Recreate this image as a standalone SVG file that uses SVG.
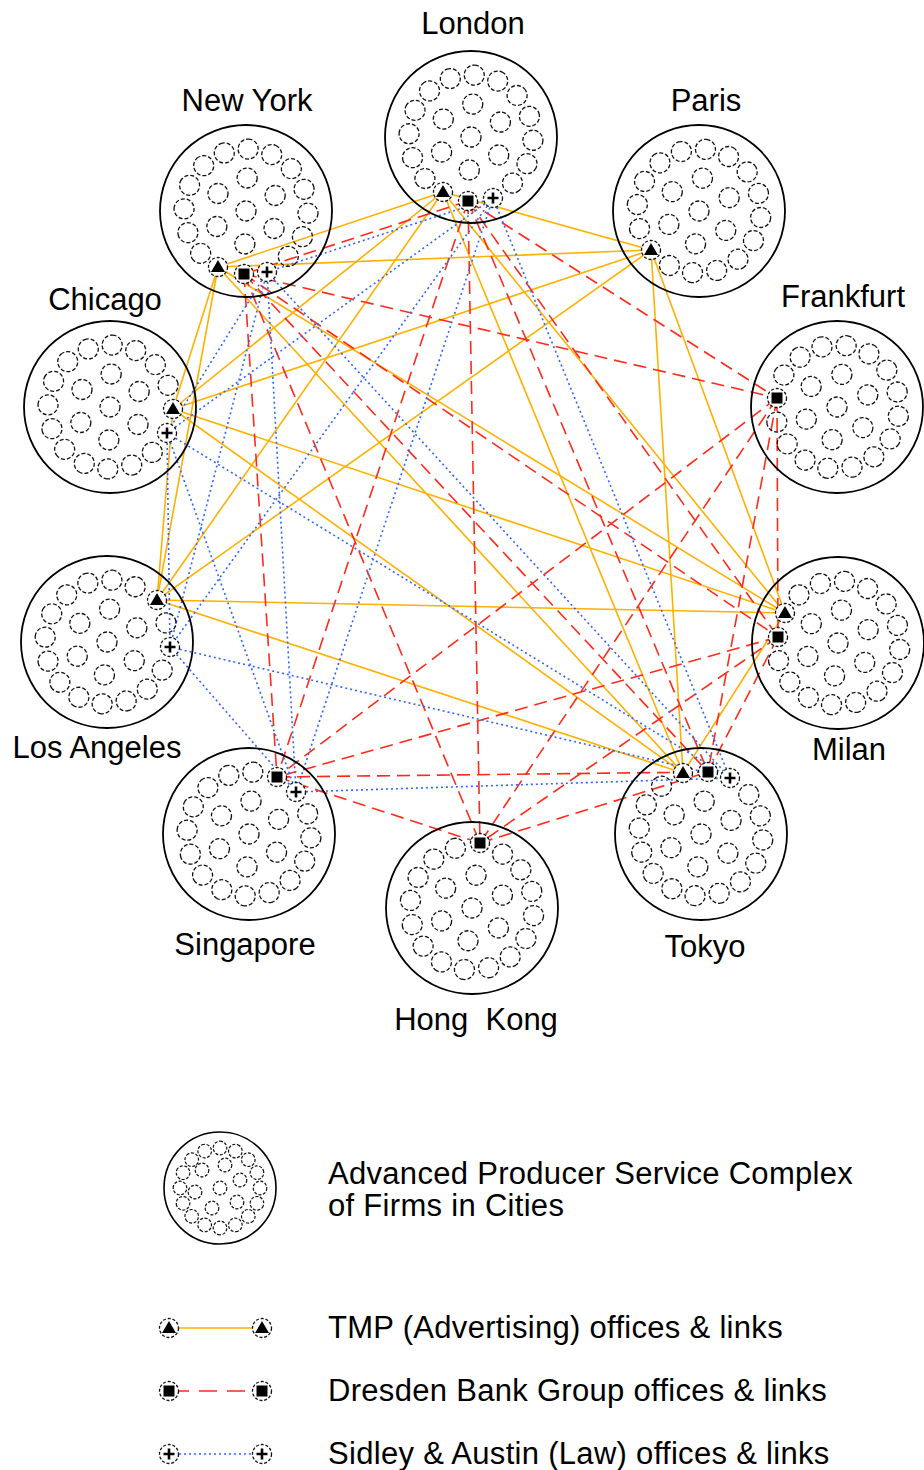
<svg xmlns="http://www.w3.org/2000/svg" xmlns:xlink="http://www.w3.org/1999/xlink" width="924" height="1470" viewBox="0 0 924 1470">
<defs>
<style>
.big{fill:none;stroke:#000;stroke-width:1.8}
.sm{fill:none;stroke:#111;stroke-width:1.3;stroke-dasharray:4 2}
.lsm{fill:none;stroke:#111;stroke-width:1.2;stroke-dasharray:3 1.6}
.mk{fill:#fff;stroke:#111;stroke-width:1.3;stroke-dasharray:3 1.8}
.tmp{stroke:#FFB000;stroke-width:1.6;fill:none}
.dre{stroke:#FF2A1A;stroke-width:1.6;stroke-dasharray:13 7;fill:none}
.sid{stroke:#2F66FF;stroke-width:1.6;stroke-dasharray:2 3;fill:none}
text{font-family:"Liberation Sans",Arial,Helvetica,sans-serif;font-size:31px;fill:#000}
.lt{letter-spacing:0.3px}
</style>
<circle id="s" class="sm" cx="62" cy="0" r="10"/>
<g id="in">
<circle class="sm" cx="0" cy="-33" r="10"/><circle class="sm" cx="28.6" cy="-16.5" r="10"/><circle class="sm" cx="28.6" cy="16.5" r="10"/><circle class="sm" cx="0" cy="33" r="10"/><circle class="sm" cx="-28.6" cy="16.5" r="10"/><circle class="sm" cx="-28.6" cy="-16.5" r="10"/><circle class="sm" cx="0" cy="0" r="10"/>
</g>
<circle id="ls" class="lsm" cx="40" cy="0" r="6.8"/>
<g id="tri"><circle class="mk" r="9.5"/><path d="M0,-7 L7,5 L-7,5 Z" fill="#000"/></g>
<g id="sq"><circle class="mk" r="9.5"/><rect x="-5.5" y="-5.5" width="11" height="11" fill="#000"/></g>
<g id="pl"><circle class="mk" r="9.5"/><path d="M-5.5,0H5.5M0,-5.5V5.5" stroke="#000" stroke-width="2.6" fill="none"/></g>
</defs>
<rect width="924" height="1470" fill="#fff"/>

<g id="connectors">
<g id="tmp-links">
<line class="tmp" x1="443" y1="192" x2="218" y2="267"/>
<line class="tmp" x1="443" y1="192" x2="173" y2="409"/>
<line class="tmp" x1="443" y1="192" x2="651" y2="250"/>
<line class="tmp" x1="443" y1="192" x2="157" y2="600"/>
<line class="tmp" x1="443" y1="192" x2="785" y2="613"/>
<line class="tmp" x1="443" y1="192" x2="683" y2="773"/>
<line class="tmp" x1="218" y1="267" x2="173" y2="409"/>
<line class="tmp" x1="218" y1="267" x2="651" y2="250"/>
<line class="tmp" x1="218" y1="267" x2="157" y2="600"/>
<line class="tmp" x1="218" y1="267" x2="785" y2="613"/>
<line class="tmp" x1="218" y1="267" x2="683" y2="773"/>
<line class="tmp" x1="173" y1="409" x2="651" y2="250"/>
<line class="tmp" x1="173" y1="409" x2="157" y2="600"/>
<line class="tmp" x1="173" y1="409" x2="785" y2="613"/>
<line class="tmp" x1="173" y1="409" x2="683" y2="773"/>
<line class="tmp" x1="651" y1="250" x2="157" y2="600"/>
<line class="tmp" x1="651" y1="250" x2="785" y2="613"/>
<line class="tmp" x1="651" y1="250" x2="683" y2="773"/>
<line class="tmp" x1="157" y1="600" x2="785" y2="613"/>
<line class="tmp" x1="157" y1="600" x2="683" y2="773"/>
<line class="tmp" x1="785" y1="613" x2="683" y2="773"/>
</g>
<g id="dresden-links">
<line class="dre" x1="468" y1="201" x2="244" y2="274"/>
<line class="dre" x1="468" y1="201" x2="777" y2="398"/>
<line class="dre" x1="468" y1="201" x2="778" y2="637"/>
<line class="dre" x1="468" y1="201" x2="277" y2="777"/>
<line class="dre" x1="468" y1="201" x2="480" y2="843"/>
<line class="dre" x1="468" y1="201" x2="708" y2="772"/>
<line class="dre" x1="244" y1="274" x2="777" y2="398"/>
<line class="dre" x1="244" y1="274" x2="778" y2="637"/>
<line class="dre" x1="244" y1="274" x2="277" y2="777"/>
<line class="dre" x1="244" y1="274" x2="480" y2="843"/>
<line class="dre" x1="244" y1="274" x2="708" y2="772"/>
<line class="dre" x1="777" y1="398" x2="778" y2="637"/>
<line class="dre" x1="777" y1="398" x2="277" y2="777"/>
<line class="dre" x1="777" y1="398" x2="480" y2="843"/>
<line class="dre" x1="777" y1="398" x2="708" y2="772"/>
<line class="dre" x1="778" y1="637" x2="277" y2="777"/>
<line class="dre" x1="778" y1="637" x2="480" y2="843"/>
<line class="dre" x1="778" y1="637" x2="708" y2="772"/>
<line class="dre" x1="277" y1="777" x2="480" y2="843"/>
<line class="dre" x1="277" y1="777" x2="708" y2="772"/>
<line class="dre" x1="480" y1="843" x2="708" y2="772"/>
</g>
<g id="sidley-links">
<line class="sid" x1="493" y1="198" x2="267" y2="272"/>
<line class="sid" x1="493" y1="198" x2="167" y2="433"/>
<line class="sid" x1="493" y1="198" x2="170" y2="647"/>
<line class="sid" x1="493" y1="198" x2="296" y2="792"/>
<line class="sid" x1="493" y1="198" x2="730" y2="778"/>
<line class="sid" x1="267" y1="272" x2="167" y2="433"/>
<line class="sid" x1="267" y1="272" x2="170" y2="647"/>
<line class="sid" x1="267" y1="272" x2="296" y2="792"/>
<line class="sid" x1="267" y1="272" x2="730" y2="778"/>
<line class="sid" x1="167" y1="433" x2="170" y2="647"/>
<line class="sid" x1="167" y1="433" x2="296" y2="792"/>
<line class="sid" x1="167" y1="433" x2="730" y2="778"/>
<line class="sid" x1="170" y1="647" x2="296" y2="792"/>
<line class="sid" x1="170" y1="647" x2="730" y2="778"/>
<line class="sid" x1="296" y1="792" x2="730" y2="778"/>
</g>
</g>

<g id="london">
<circle class="big" cx="471" cy="137" r="86"/>
<g transform="translate(471,137) rotate(3)"><use href="#in"/><use href="#s"/><use href="#s" transform="rotate(22.5)"/><use href="#s" transform="rotate(45)"/><use href="#s" transform="rotate(135)"/><use href="#s" transform="rotate(157.5)"/><use href="#s" transform="rotate(180)"/><use href="#s" transform="rotate(202.5)"/><use href="#s" transform="rotate(225)"/><use href="#s" transform="rotate(247.5)"/><use href="#s" transform="rotate(270)"/><use href="#s" transform="rotate(292.5)"/><use href="#s" transform="rotate(315)"/><use href="#s" transform="rotate(337.5)"/></g>
<use href="#tri" x="443" y="192"/><use href="#sq" x="468" y="201"/><use href="#pl" x="493" y="198"/>
<text x="473" y="34" text-anchor="middle">London</text>
</g>

<g id="new-york">
<circle class="big" cx="246" cy="211" r="86"/>
<g transform="translate(246,211) rotate(2)"><use href="#in"/><use href="#s"/><use href="#s" transform="rotate(22.5)"/><use href="#s" transform="rotate(45)"/><use href="#s" transform="rotate(135)"/><use href="#s" transform="rotate(157.5)"/><use href="#s" transform="rotate(180)"/><use href="#s" transform="rotate(202.5)"/><use href="#s" transform="rotate(225)"/><use href="#s" transform="rotate(247.5)"/><use href="#s" transform="rotate(270)"/><use href="#s" transform="rotate(292.5)"/><use href="#s" transform="rotate(315)"/><use href="#s" transform="rotate(337.5)"/></g>
<use href="#tri" x="218" y="267"/><use href="#sq" x="244" y="274"/><use href="#pl" x="267" y="272"/>
<text x="247" y="111" text-anchor="middle">New York</text>
</g>

<g id="paris">
<circle class="big" cx="699" cy="211" r="86"/>
<g transform="translate(699,211) rotate(6)"><use href="#in"/><use href="#s"/><use href="#s" transform="rotate(22.5)"/><use href="#s" transform="rotate(45)"/><use href="#s" transform="rotate(67.5)"/><use href="#s" transform="rotate(90)"/><use href="#s" transform="rotate(112.5)"/><use href="#s" transform="rotate(157.5)"/><use href="#s" transform="rotate(180)"/><use href="#s" transform="rotate(202.5)"/><use href="#s" transform="rotate(225)"/><use href="#s" transform="rotate(247.5)"/><use href="#s" transform="rotate(270)"/><use href="#s" transform="rotate(292.5)"/><use href="#s" transform="rotate(315)"/><use href="#s" transform="rotate(337.5)"/></g>
<use href="#tri" x="651" y="250"/>
<text x="706" y="111" text-anchor="middle">Paris</text>
</g>

<g id="chicago">
<circle class="big" cx="110" cy="407" r="86"/>
<g transform="translate(110,407) rotate(2)"><use href="#in"/><use href="#s" transform="rotate(45)"/><use href="#s" transform="rotate(67.5)"/><use href="#s" transform="rotate(90)"/><use href="#s" transform="rotate(112.5)"/><use href="#s" transform="rotate(135)"/><use href="#s" transform="rotate(157.5)"/><use href="#s" transform="rotate(180)"/><use href="#s" transform="rotate(202.5)"/><use href="#s" transform="rotate(225)"/><use href="#s" transform="rotate(247.5)"/><use href="#s" transform="rotate(270)"/><use href="#s" transform="rotate(292.5)"/><use href="#s" transform="rotate(315)"/><use href="#s" transform="rotate(337.5)"/></g>
<use href="#tri" x="173" y="409"/><use href="#pl" x="167" y="433"/>
<text x="105" y="310" text-anchor="middle">Chicago</text>
</g>

<g id="frankfurt">
<circle class="big" cx="837" cy="407" r="86"/>
<g transform="translate(837,407) rotate(8.5)"><use href="#in"/><use href="#s"/><use href="#s" transform="rotate(22.5)"/><use href="#s" transform="rotate(45)"/><use href="#s" transform="rotate(67.5)"/><use href="#s" transform="rotate(90)"/><use href="#s" transform="rotate(112.5)"/><use href="#s" transform="rotate(135)"/><use href="#s" transform="rotate(157.5)"/><use href="#s" transform="rotate(202.5)"/><use href="#s" transform="rotate(225)"/><use href="#s" transform="rotate(247.5)"/><use href="#s" transform="rotate(270)"/><use href="#s" transform="rotate(292.5)"/><use href="#s" transform="rotate(315)"/><use href="#s" transform="rotate(337.5)"/></g>
<use href="#sq" x="777" y="398"/>
<text x="843" y="307" text-anchor="middle">Frankfurt</text>
</g>

<g id="los-angeles">
<circle class="big" cx="107" cy="642" r="86"/>
<g transform="translate(107,642) rotate(4.5)"><use href="#in"/><use href="#s" transform="rotate(22.5)"/><use href="#s" transform="rotate(45)"/><use href="#s" transform="rotate(67.5)"/><use href="#s" transform="rotate(90)"/><use href="#s" transform="rotate(112.5)"/><use href="#s" transform="rotate(135)"/><use href="#s" transform="rotate(157.5)"/><use href="#s" transform="rotate(180)"/><use href="#s" transform="rotate(202.5)"/><use href="#s" transform="rotate(225)"/><use href="#s" transform="rotate(247.5)"/><use href="#s" transform="rotate(270)"/><use href="#s" transform="rotate(292.5)"/><use href="#s" transform="rotate(337.5)"/></g>
<use href="#tri" x="157" y="600"/><use href="#pl" x="170" y="647"/>
<text x="97" y="758" text-anchor="middle">Los Angeles</text>
</g>

<g id="milan">
<circle class="big" cx="838" cy="643" r="86"/>
<g transform="translate(838,643) rotate(6)"><use href="#in"/><use href="#s"/><use href="#s" transform="rotate(22.5)"/><use href="#s" transform="rotate(45)"/><use href="#s" transform="rotate(67.5)"/><use href="#s" transform="rotate(90)"/><use href="#s" transform="rotate(112.5)"/><use href="#s" transform="rotate(135)"/><use href="#s" transform="rotate(157.5)"/><use href="#s" transform="rotate(225)"/><use href="#s" transform="rotate(247.5)"/><use href="#s" transform="rotate(270)"/><use href="#s" transform="rotate(292.5)"/><use href="#s" transform="rotate(315)"/><use href="#s" transform="rotate(337.5)"/></g>
<use href="#tri" x="785" y="613"/><use href="#sq" x="778" y="637"/>
<text x="849" y="760" text-anchor="middle">Milan</text>
</g>

<g id="singapore">
<circle class="big" cx="249" cy="834" r="86"/>
<g transform="translate(249,834) rotate(3.5)"><use href="#in"/><use href="#s"/><use href="#s" transform="rotate(22.5)"/><use href="#s" transform="rotate(45)"/><use href="#s" transform="rotate(67.5)"/><use href="#s" transform="rotate(90)"/><use href="#s" transform="rotate(112.5)"/><use href="#s" transform="rotate(135)"/><use href="#s" transform="rotate(157.5)"/><use href="#s" transform="rotate(180)"/><use href="#s" transform="rotate(202.5)"/><use href="#s" transform="rotate(225)"/><use href="#s" transform="rotate(247.5)"/><use href="#s" transform="rotate(270)"/><use href="#s" transform="rotate(337.5)"/></g>
<use href="#sq" x="277" y="777"/><use href="#pl" x="296" y="792"/>
<text x="245" y="955" text-anchor="middle">Singapore</text>
</g>

<g id="hong-kong">
<circle class="big" cx="472" cy="908" r="86"/>
<g transform="translate(472,908) rotate(7)"><use href="#in"/><use href="#s"/><use href="#s" transform="rotate(22.5)"/><use href="#s" transform="rotate(45)"/><use href="#s" transform="rotate(67.5)"/><use href="#s" transform="rotate(90)"/><use href="#s" transform="rotate(112.5)"/><use href="#s" transform="rotate(135)"/><use href="#s" transform="rotate(157.5)"/><use href="#s" transform="rotate(180)"/><use href="#s" transform="rotate(202.5)"/><use href="#s" transform="rotate(225)"/><use href="#s" transform="rotate(247.5)"/><use href="#s" transform="rotate(292.5)"/><use href="#s" transform="rotate(315)"/><use href="#s" transform="rotate(337.5)"/></g>
<use href="#sq" x="480" y="843"/>
<text x="476" y="1030" text-anchor="middle" style="white-space:pre">Hong  Kong</text>
</g>

<g id="tokyo">
<circle class="big" cx="701" cy="834" r="86"/>
<g transform="translate(701,834) rotate(5.5)"><use href="#in"/><use href="#s"/><use href="#s" transform="rotate(22.5)"/><use href="#s" transform="rotate(45)"/><use href="#s" transform="rotate(67.5)"/><use href="#s" transform="rotate(90)"/><use href="#s" transform="rotate(112.5)"/><use href="#s" transform="rotate(135)"/><use href="#s" transform="rotate(157.5)"/><use href="#s" transform="rotate(180)"/><use href="#s" transform="rotate(202.5)"/><use href="#s" transform="rotate(225)"/><use href="#s" transform="rotate(315)"/><use href="#s" transform="rotate(337.5)"/></g>
<use href="#tri" x="683" y="773"/><use href="#sq" x="708" y="772"/><use href="#pl" x="730" y="778"/>
<text x="705" y="957" text-anchor="middle">Tokyo</text>
</g>

<g id="legend">
<g id="legend-complex">
<circle cx="220" cy="1188" r="56" fill="none" stroke="#000" stroke-width="1.6"/>
<g transform="translate(220,1188)">
<use href="#ls"/><use href="#ls" transform="rotate(22.5)"/><use href="#ls" transform="rotate(45)"/><use href="#ls" transform="rotate(67.5)"/><use href="#ls" transform="rotate(90)"/><use href="#ls" transform="rotate(112.5)"/><use href="#ls" transform="rotate(135)"/><use href="#ls" transform="rotate(157.5)"/><use href="#ls" transform="rotate(180)"/><use href="#ls" transform="rotate(202.5)"/><use href="#ls" transform="rotate(225)"/><use href="#ls" transform="rotate(247.5)"/><use href="#ls" transform="rotate(270)"/><use href="#ls" transform="rotate(292.5)"/><use href="#ls" transform="rotate(315)"/><use href="#ls" transform="rotate(337.5)"/>
<circle class="lsm" cx="-18" cy="-18" r="6.8"/><circle class="lsm" cx="5" cy="-23" r="6.8"/><circle class="lsm" cx="20" cy="-8" r="6.8"/><circle class="lsm" cx="0" cy="0" r="6.8"/><circle class="lsm" cx="-25" cy="4" r="6.8"/><circle class="lsm" cx="17" cy="14" r="6.8"/><circle class="lsm" cx="-8" cy="20" r="6.8"/>
</g>
<text class="lt" x="328" y="1184">Advanced Producer Service Complex</text>
<text class="lt" x="328" y="1216">of Firms in Cities</text>
</g>
<g id="legend-tmp">
<line class="tmp" x1="169" y1="1328" x2="262" y2="1328"/>
<use href="#tri" x="169" y="1328"/><use href="#tri" x="262" y="1328"/>
<text class="lt" x="328" y="1338">TMP (Advertising) offices &amp; links</text>
</g>
<g id="legend-dresden">
<line class="dre" x1="169" y1="1391" x2="262" y2="1391" style="stroke-dasharray:18 10;stroke-dashoffset:-2"/>
<use href="#sq" x="169" y="1391"/><use href="#sq" x="262" y="1391"/>
<text class="lt" x="328" y="1401">Dresden Bank Group offices &amp; links</text>
</g>
<g id="legend-sidley">
<line class="sid" x1="169" y1="1454" x2="262" y2="1454"/>
<use href="#pl" x="169" y="1454"/><use href="#pl" x="262" y="1454"/>
<text class="lt" x="328" y="1464">Sidley &amp; Austin (Law) offices &amp; links</text>
</g>
</g>
</svg>
